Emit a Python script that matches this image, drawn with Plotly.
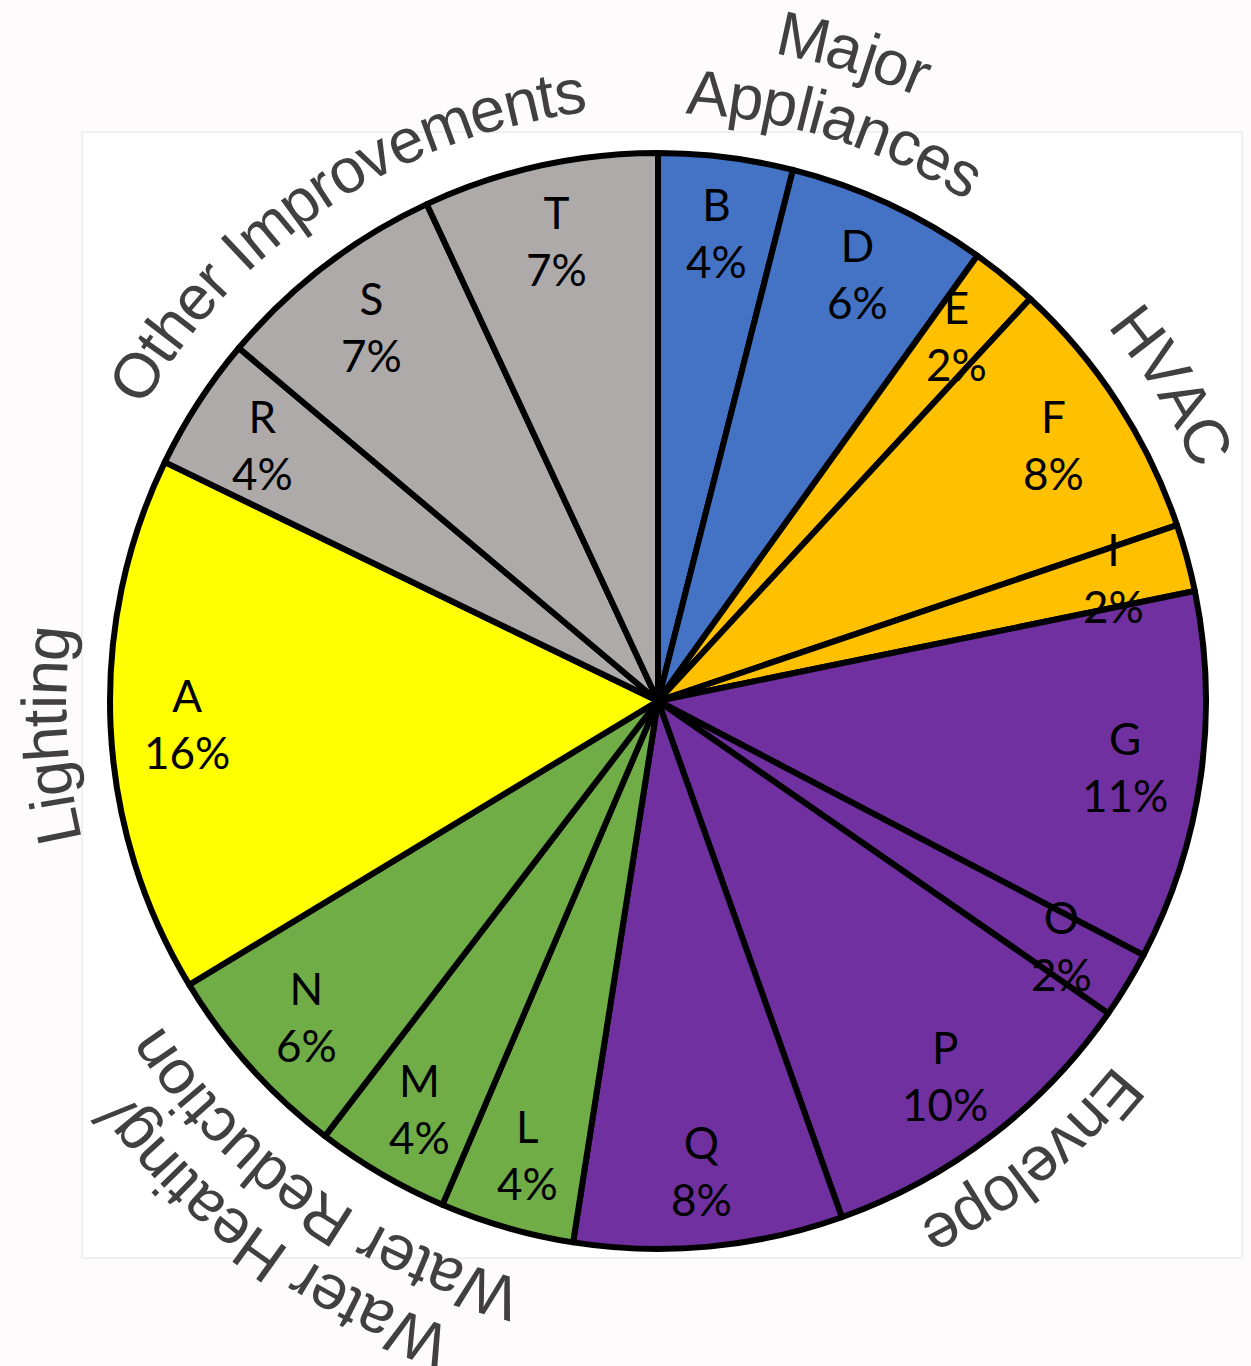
import math
import plotly.graph_objects as go

# ---- data -------------------------------------------------------------
slice_labels = ["B", "D", "E", "F", "I", "G", "O", "P", "Q", "L", "M", "N", "A", "R", "S", "T"]
slice_shares = [4, 6, 2, 8, 2, 11, 2, 10, 8, 4, 4, 6, 16, 4, 7, 7]
slice_groups = ["Major Appliances", "Major Appliances",
                "HVAC", "HVAC", "HVAC",
                "Envelope", "Envelope", "Envelope", "Envelope",
                "Water Heating/ Water Reduction", "Water Heating/ Water Reduction",
                "Water Heating/ Water Reduction",
                "Lighting",
                "Other Improvements", "Other Improvements", "Other Improvements"]

group_names = ["Major Appliances", "HVAC", "Envelope",
               "Water Heating/ Water Reduction", "Lighting", "Other Improvements"]

# ---- styling ----------------------------------------------------------
group_colors = {
    "Major Appliances": "#4472C4",
    "HVAC": "#FFC000",
    "Envelope": "#7030A0",
    "Water Heating/ Water Reduction": "#70AD47",
    "Lighting": "#FFFF00",
    "Other Improvements": "#AEAAAA",
}

# group captions: each line -> (text, radius px, centre angle deg clockwise from 12 o'clock)
group_caption_lines = {
    "Major Appliances": [("Major", 680, 16.8), ("Appliances", 610, 17.2)],
    "HVAC": [("HVAC", 607, 58.5)],
    "Envelope": [("Envelope", 605, 141.0)],
    "Water Heating/ Water Reduction": [("Water Heating/", 682, 215.9),
                                       ("Water Reduction", 616, 215.1)],
    "Lighting": [("Lighting", 614, 266.8)],
    "Other Improvements": [("Other Improvements", 615, 326.5)],
}

W, H = 1251, 1366
CX, CY, R = 658, 701, 548          # pie centre and radius in page pixels
LABEL_R = 472                      # radius for the in-slice labels
CAPTION_SIZE = 63
CAPTION_FONT = "Liberation Sans, Arial, sans-serif"

# Liberation Sans advance widths (per 1000 em) for the caption glyphs
ADV = {
    "A": 667, "C": 722, "E": 667, "H": 722, "I": 278, "L": 556, "M": 833,
    "O": 778, "R": 722, "V": 667, "W": 944,
    "a": 556, "c": 500, "d": 556, "e": 556, "g": 556, "h": 556, "i": 222,
    "j": 222, "l": 222, "m": 833, "n": 556, "o": 556, "p": 556, "r": 333,
    "s": 500, "t": 278, "u": 556, "v": 500, " ": 278, "/": 278,
}


def to_paper(px, py):
    return px / W, 1 - py / H


def polar(radius, deg):
    t = math.radians(deg)
    return CX + radius * math.sin(t), CY - radius * math.cos(t)


def arc_caption(line, radius, centre_deg, size):
    """Set a caption along a circular arc, letters upright away from the centre."""
    widths = [ADV.get(ch, 556) / 1000 * size for ch in line]
    total_w = sum(widths)
    pos = -total_w / 2
    out = []
    for ch, w in zip(line, widths):
        s = pos + w / 2
        pos += w
        if ch == " ":
            continue
        deg = centre_deg + math.degrees(s / radius)
        x, y = to_paper(*polar(radius, deg))
        ang = ((deg + 180) % 360) - 180
        out.append(dict(text=ch, x=x, y=y, xref="paper", yref="paper",
                        xanchor="center", yanchor="middle", showarrow=False,
                        textangle=ang,
                        font=dict(family=CAPTION_FONT, size=size, color="#404040")))
    return out


colors = [group_colors[g] for g in slice_groups]

fig = go.Figure(go.Pie(
    labels=slice_labels,
    values=slice_shares,
    sort=False,
    direction="clockwise",
    rotation=0,
    textinfo="none",
    hoverinfo="label+value",
    marker=dict(colors=colors, line=dict(color="#000000", width=6)),
    domain=dict(x=[(CX - R) / W, (CX + R) / W],
                y=[(H - CY - R) / H, (H - CY + R) / H]),
    showlegend=False,
))

annotations = []

# in-slice labels: letter over percentage, at the middle angle of each slice
total = sum(slice_shares)
cum = 0
for lab, v in zip(slice_labels, slice_shares):
    mid = (cum + v / 2) / total * 360
    cum += v
    x, y = to_paper(*polar(LABEL_R, mid))
    annotations.append(dict(text=f"{lab}<br>{v}%", x=x, y=y, xref="paper", yref="paper",
                            xanchor="center", yanchor="middle", showarrow=False,
                            align="center",
                            font=dict(family="Lato, Carlito, Calibri, sans-serif",
                                      size=44, color="#000000")))

# group captions around the rim
for g in group_names:
    for line, rad, deg in group_caption_lines[g]:
        annotations.extend(arc_caption(line, rad, deg, CAPTION_SIZE))

x0, y1 = to_paper(82, 132)
x1, y0 = to_paper(1242, 1258)

fig.update_layout(
    width=W, height=H,
    margin=dict(l=0, r=0, t=0, b=0),
    paper_bgcolor="#fdfbfb",
    plot_bgcolor="#ffffff",
    shapes=[dict(type="rect", xref="paper", yref="paper", x0=x0, x1=x1, y0=y0, y1=y1,
                 fillcolor="#ffffff", line=dict(color="#e2e2e2", width=1), layer="below")],
    annotations=annotations,
)

fig.write_html("out.html")
